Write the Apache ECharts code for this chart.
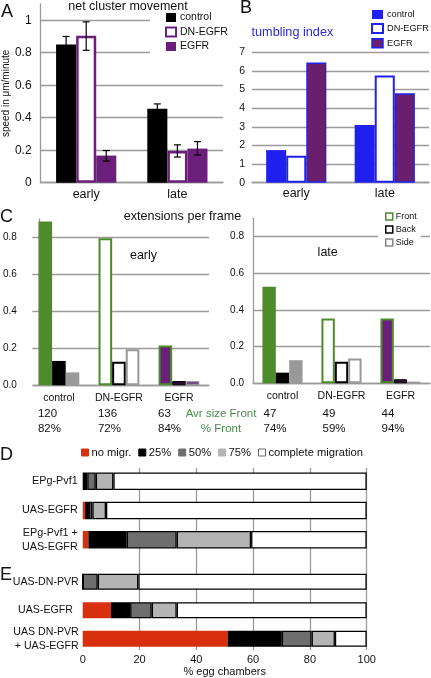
<!DOCTYPE html>
<html><head><meta charset="utf-8">
<script src="https://cdn.jsdelivr.net/npm/echarts@6/dist/echarts.min.js"></script>
<style>html,body{margin:0;padding:0;background:#fff}#c{width:431px;height:678px}</style>
</head><body><div id="c"></div>
<script>
const FONT = '"Liberation Sans", Arial, Helvetica, sans-serif';
// ---- Panel A: net cluster movement
const aCategories = ['early', 'late'];
const aControl = [0.85, 0.455];
const aControlErr = [[0.80, 0.90], [0.428, 0.485]];
const aDN = [0.905, 0.195];
const aDNErr = [[0.815, 0.99], [0.158, 0.233]];
const aEGFR = [0.167, 0.21];
const aEGFRErr = [[0.133, 0.198], [0.17, 0.253]];
// ---- Panel B: tumbling index
const bCategories = ['early', 'late'];
const bControl = [1.75, 3.1];
const bDN = [1.45, 5.75];
const bEGFR = [6.45, 4.8];
// ---- Panel C: extensions per frame
const cCategories = ['control', 'DN-EGFR', 'EGFR'];
const cEarlyFront = [0.887, 0.797, 0.215];
const cEarlyBack = [0.132, 0.128, 0.023];
const cEarlySide = [0.07, 0.195, 0.023];
const cLateFront = [0.527, 0.354, 0.354];
const cLateBack = [0.058, 0.117, 0.022];
const cLateSide = [0.126, 0.135, 0.009];
const cAvrSizeFront = ['120', '136', '63', '47', '49', '44'];
const cPctFront = ['82%', '72%', '84%', '74%', '59%', '94%'];
// ---- Panel D
const dCategories = ['EPg-Pvf1', 'UAS-EGFR', 'EPg-Pvf1 +\nUAS-EGFR'];
const dNoMigr = [0, 0.8, 2.0];
const d25 = [1.6, 1.4, 13.5];
const d50 = [3.0, 1.2, 17.6];
const d75 = [6.2, 4.8, 26.2];
const dComplete = [89.2, 91.8, 40.7];
// ---- Panel E
const eCategories = ['UAS-DN-PVR', 'UAS-EGFR  ', 'UAS DN-PVR\n+ UAS-EGFR'];
const eNoMigr = [0, 9.9, 51.0];
const e25 = [0, 6.8, 19.1];
const e50 = [5.3, 7.6, 10.5];
const e75 = [14.3, 8.8, 8.2];
const eComplete = [80.4, 66.9, 11.2];
const deTicks = [0, 20, 40, 60, 80, 100];

const GRAY = '#9a9a9a';
const PURPLE = '#6b1f7b';
const BLUE = '#2020ee';
const BPURPLE = '#6a1f6e';
const GREEN = '#4d8b2b';
const RED = '#d8300e';
const TXT = '#111';

const chart = echarts.init(document.getElementById('c'));

function errSeries(xi, errs, idx, n, gap) {
  return {
    type: 'custom', xAxisIndex: xi, yAxisIndex: xi, z: 10, silent: true,
    data: errs.map((e, i) => [i, e[0], e[1]]),
    encode: {x: 0, y: [1, 2]},
    renderItem(params, api) {
      const c = api.value(0);
      const lo = api.coord([c, api.value(1)]);
      const hi = api.coord([c, api.value(2)]);
      const band = api.size([1, 0])[0];
      const bw = band * (1 - gap) / n;
      const x = lo[0] + (idx - (n - 1) / 2) * bw;
      const hw = 3.5;
      const st = {stroke: '#000', lineWidth: 1.2};
      return {type: 'group', children: [
        {type: 'line', shape: {x1: x, y1: lo[1], x2: x, y2: hi[1]}, style: st},
        {type: 'line', shape: {x1: x - hw, y1: lo[1], x2: x + hw, y2: lo[1]}, style: st},
        {type: 'line', shape: {x1: x - hw, y1: hi[1], x2: x + hw, y2: hi[1]}, style: st}
      ]};
    }
  };
}

const catAxis = (gi, data, fs, margin) => ({
  type: 'category', gridIndex: gi, data: data,
  axisLine: {show: true, lineStyle: {color: GRAY, width: 1.3}},
  axisTick: {show: false},
  axisLabel: {fontFamily: FONT, fontSize: fs, color: TXT, margin: margin, interval: 0}
});

// Panel C item styles
const cFrontStyles = [
  {color: GREEN},
  {color: '#fff', borderColor: GREEN, borderWidth: 2},
  {color: PURPLE, borderColor: GREEN, borderWidth: 2}
];
const cBackStyles = [
  {color: '#000'},
  {color: '#fff', borderColor: '#000', borderWidth: 2},
  {color: '#2a0c33', borderColor: '#000', borderWidth: 1}
];
const cSideStyles = [
  {color: '#999'},
  {color: '#fff', borderColor: '#999', borderWidth: 2},
  {color: '#7a4a88', borderColor: '#999', borderWidth: 1}
];
const styled = (vals, styles) => vals.map((v, i) => ({value: v, itemStyle: styles[i]}));

const deColors = [RED, '#000', '#6e6e6e', '#b4b4b4', '#fff'];
const deNames = ['no migr.', '25%', '50%', '75%', 'complete migration'];
function deSeries(gi, arrs, gap) {
  return arrs.map((arr, k) => ({
    name: deNames[k], type: 'bar', stack: 'de' + gi, xAxisIndex: gi, yAxisIndex: gi,
    data: arr, barCategoryGap: gap,
    itemStyle: k === 0 ? {color: RED, borderColor: RED, borderWidth: 0}
                       : {color: deColors[k], borderColor: '#000', borderWidth: 1.3}
  }));
}

const option = {
  animation: false,
  textStyle: {fontFamily: FONT},
  grid: [
    {left: 33, top: 4, width: 190, height: 178.7},
    {left: 252, top: 52.3, width: 177, height: 130.4},
    {left: 23, top: 219.2, width: 186, height: 166.1},
    {left: 253, top: 218.3, width: 177, height: 165},
    {left: 82.7, top: 466.7, width: 284, height: 87.6},
    {left: 82.7, top: 567.5, width: 284, height: 85.5},
    {left: 82.7, top: 468, width: 284, height: 184}
  ],
  xAxis: [
    catAxis(0, aCategories, 12.5, 5),
    catAxis(1, bCategories, 12.5, 4),
    catAxis(2, cCategories, 10.5, 7),
    catAxis(3, cCategories, 10.5, 7),
    {type: 'value', gridIndex: 4, min: 0, max: 100, show: false},
    {type: 'value', gridIndex: 5, min: 0, max: 100, show: false},
    {type: 'value', gridIndex: 6, min: deTicks[0], max: deTicks[deTicks.length - 1], interval: deTicks[1] - deTicks[0],
     axisLine: {show: false}, axisTick: {show: false},
     splitLine: {show: true, showMinLine: false, lineStyle: {color: GRAY, width: 1.3}},
     axisLabel: {fontFamily: FONT, fontSize: 11, color: TXT, margin: 4},
     name: '% egg chambers', nameLocation: 'middle', nameGap: 15,
     nameTextStyle: {fontFamily: FONT, fontSize: 11, color: TXT}}
  ],
  yAxis: [
    {type: 'value', gridIndex: 0, min: 0, max: 1.1, interval: 0.2,
     axisLine: {show: true, lineStyle: {color: GRAY, width: 1.3}}, axisTick: {show: false},
     splitLine: {show: true, showMaxLine: false, lineStyle: {color: GRAY, width: 1.3}},
     axisLabel: {fontFamily: FONT, fontSize: 12, color: TXT, margin: 9, showMaxLabel: false},
     name: 'speed in μm/minute', nameLocation: 'middle', nameGap: 22,
     nameTextStyle: {fontFamily: FONT, fontSize: 10, color: TXT}},
    {type: 'value', gridIndex: 1, min: 0, max: 7, interval: 1,
     axisLine: {show: false}, axisTick: {show: false},
     splitLine: {show: true, lineStyle: {color: GRAY, width: 1.3}},
     axisLabel: {fontFamily: FONT, fontSize: 10.5, color: TXT, margin: 7}},
    {type: 'value', gridIndex: 2, min: 0, max: 0.9, interval: 0.2, offset: -10,
     axisLine: {show: true, lineStyle: {color: GRAY, width: 1.3}}, axisTick: {show: false},
     splitLine: {show: true, showMaxLine: false, lineStyle: {color: GRAY, width: 1.3}},
     axisLabel: {fontFamily: FONT, fontSize: 10, color: TXT, margin: 22, showMaxLabel: false,
                 formatter: v => v.toFixed(1)}},
    {type: 'value', gridIndex: 3, min: 0, max: 0.9, interval: 0.2,
     axisLine: {show: true, lineStyle: {color: GRAY, width: 1.3}}, axisTick: {show: false},
     splitLine: {show: true, showMaxLine: false, lineStyle: {color: GRAY, width: 1.3}},
     axisLabel: {fontFamily: FONT, fontSize: 10, color: TXT, margin: 9, showMaxLabel: false,
                 formatter: v => v.toFixed(1)}},
    {type: 'category', gridIndex: 4, data: dCategories, inverse: true,
     axisLine: {show: false}, axisTick: {show: false},
     axisLabel: {fontFamily: FONT, fontSize: 10.8, color: TXT, margin: 5, lineHeight: 14, interval: 0}},
    {type: 'category', gridIndex: 5, data: eCategories, inverse: true,
     axisLine: {show: false}, axisTick: {show: false},
     axisLabel: {fontFamily: FONT, fontSize: 10.6, color: TXT, margin: 4, lineHeight: 14, interval: 0}},
    {type: 'value', gridIndex: 6, show: false}
  ],
  legend: [
    {selectedMode: false, orient: 'vertical', left: 150, top: 9, padding: [3, 4, 3, 15], backgroundColor: '#fff',
     itemWidth: 10, itemHeight: 9, itemGap: 3.5, icon: 'rect',
     textStyle: {fontFamily: FONT, fontSize: 10.5, color: TXT, padding: [0, 0, 0, -1]},
     data: [
       {name: 'control', itemStyle: {color: '#000', borderWidth: 0}},
       {name: 'DN-EGFR', itemStyle: {color: '#fff', borderColor: PURPLE, borderWidth: 2}},
       {name: 'EGFR', itemStyle: {color: PURPLE, borderWidth: 0}}
     ]},
    {selectedMode: false, orient: 'vertical', left: 371, top: 10, padding: 0,
     itemWidth: 11, itemHeight: 9, itemGap: 4, icon: 'rect',
     textStyle: {fontFamily: FONT, fontSize: 9.2, color: TXT, padding: [0, 0, 0, -1]},
     data: [
       {name: 'control', itemStyle: {color: BLUE, borderWidth: 0}},
       {name: 'DN-EGFR', itemStyle: {color: '#fff', borderColor: BLUE, borderWidth: 2}},
       {name: 'EGFR', itemStyle: {color: BPURPLE, borderColor: BLUE, borderWidth: 1.5}}
     ]},
    {selectedMode: false, orient: 'vertical', left: 378, top: 210, padding: [2, 4, 3, 7], backgroundColor: '#fff',
     itemWidth: 7, itemHeight: 7, itemGap: 4, icon: 'rect',
     textStyle: {fontFamily: FONT, fontSize: 9, color: TXT, padding: [0, 0, 0, -2]},
     data: [
       {name: 'Front', itemStyle: {color: '#fff', borderColor: GREEN, borderWidth: 1.5}},
       {name: 'Back', itemStyle: {color: '#fff', borderColor: '#000', borderWidth: 1.5}},
       {name: 'Side', itemStyle: {color: '#fff', borderColor: '#888', borderWidth: 1.5}}
     ]},
    {selectedMode: false, orient: 'horizontal', left: 81, top: 447, padding: 0,
     itemWidth: 7, itemHeight: 7, itemGap: 7, icon: 'rect',
     textStyle: {fontFamily: FONT, fontSize: 11.2, color: TXT, padding: [0, 0, 0, -2]},
     data: deNames.map((n, k) => ({name: n, itemStyle: {color: deColors[k], borderColor: k === 4 ? '#666' : deColors[k], borderWidth: 1}}))}
  ],
  series: [
    // A
    {name: 'control', type: 'bar', xAxisIndex: 0, yAxisIndex: 0, data: aControl, barGap: '0%', barCategoryGap: '34%', itemStyle: {color: '#000'}},
    {name: 'DN-EGFR', type: 'bar', xAxisIndex: 0, yAxisIndex: 0, data: aDN, barGap: '0%', barCategoryGap: '34%', itemStyle: {color: '#fff', borderColor: PURPLE, borderWidth: 2.5}},
    {name: 'EGFR', type: 'bar', xAxisIndex: 0, yAxisIndex: 0, data: aEGFR, barGap: '0%', barCategoryGap: '34%', itemStyle: {color: PURPLE}},
    errSeries(0, aControlErr, 0, 3, 0.34),
    errSeries(0, aDNErr, 1, 3, 0.34),
    errSeries(0, aEGFRErr, 2, 3, 0.34),
    // B
    {name: 'control', type: 'bar', xAxisIndex: 1, yAxisIndex: 1, data: bControl, barGap: '0%', barCategoryGap: '32%', itemStyle: {color: BLUE}},
    {name: 'DN-EGFR', type: 'bar', xAxisIndex: 1, yAxisIndex: 1, data: bDN, barGap: '0%', barCategoryGap: '32%', itemStyle: {color: '#fff', borderColor: BLUE, borderWidth: 2}},
    {name: 'EGFR', type: 'bar', xAxisIndex: 1, yAxisIndex: 1, data: bEGFR, barGap: '0%', barCategoryGap: '32%', itemStyle: {color: BPURPLE, borderColor: BLUE, borderWidth: 1.5}},
    // C early
    {name: 'Front', type: 'bar', xAxisIndex: 2, yAxisIndex: 2, data: styled(cEarlyFront, cFrontStyles), barGap: '0%', barCategoryGap: '32%'},
    {name: 'Back', type: 'bar', xAxisIndex: 2, yAxisIndex: 2, data: styled(cEarlyBack, cBackStyles), barGap: '0%', barCategoryGap: '32%'},
    {name: 'Side', type: 'bar', xAxisIndex: 2, yAxisIndex: 2, data: styled(cEarlySide, cSideStyles), barGap: '0%', barCategoryGap: '32%'},
    // C late
    {name: 'Front', type: 'bar', xAxisIndex: 3, yAxisIndex: 3, data: styled(cLateFront, cFrontStyles), barGap: '0%', barCategoryGap: '32%'},
    {name: 'Back', type: 'bar', xAxisIndex: 3, yAxisIndex: 3, data: styled(cLateBack, cBackStyles), barGap: '0%', barCategoryGap: '32%'},
    {name: 'Side', type: 'bar', xAxisIndex: 3, yAxisIndex: 3, data: styled(cLateSide, cSideStyles), barGap: '0%', barCategoryGap: '32%'}
  ].concat(
    deSeries(4, [dNoMigr, d25, d50, d75, dComplete], '40%'),
    deSeries(5, [eNoMigr, e25, e50, e75, eComplete], '44%')
  )
};
chart.setOption(option);

// Annotation texts positioned relative to category positions of panel C
const leftX = cCategories.map((c, i) => chart.convertToPixel({xAxisIndex: 2}, i));
const rightX = cCategories.map((c, i) => chart.convertToPixel({xAxisIndex: 3}, i));
const colX = leftX.map(x => x - 21).concat(rightX.map(x => x - 19));
const T = (x, y, text, fs, extra) => ({type: 'text', x: x, y: y, z: 100,
  style: Object.assign({text: text, fontFamily: FONT, fontSize: fs, fill: TXT, textVerticalAlign: 'middle'}, extra || {})});
const graphics = [
  {type: 'rect', z: 100, shape: {x: 22.2, y: 214, width: 10.2, height: 174}, style: {fill: '#fff'}},
  T(1, 12, 'A', 18), T(240, 8, 'B', 18), T(0, 217, 'C', 18), T(0, 455, 'D', 18), T(0, 575, 'E', 18),
  T(128, 7, 'net cluster movement', 12.5, {textAlign: 'center'}),
  T(251.5, 32.5, 'tumbling index', 12.7, {fill: '#2b2bd6'}),
  T(182.5, 216.7, 'extensions per frame', 12.6, {textAlign: 'center'}),
  T(143.5, 256, 'early', 12.5, {textAlign: 'center'}),
  T(327.7, 253, 'late', 12.5, {textAlign: 'center'}),
  T(221, 414, 'Avr size Front', 11.5, {textAlign: 'center', fill: '#4a8a4a'}),
  T(221, 429.3, '% Front', 11.5, {textAlign: 'center', fill: '#4a8a4a'})
];
colX.forEach((x, i) => {
  graphics.push(T(x, 414, cAvrSizeFront[i], 11.5));
  graphics.push(T(x, 429.3, cPctFront[i], 11.5));
});
chart.setOption({graphic: graphics});
</script>
</body></html>
